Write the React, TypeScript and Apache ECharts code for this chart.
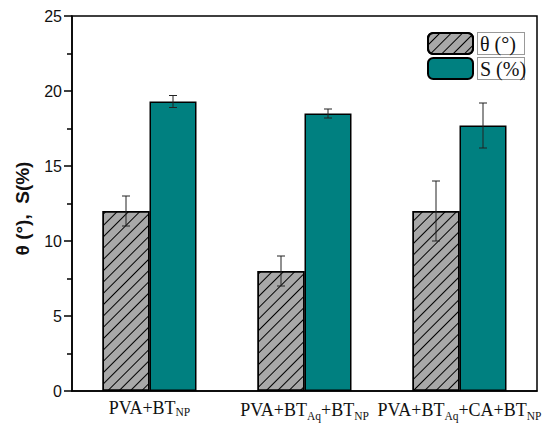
import React, { useEffect, useRef } from "react";
import * as echarts from "echarts";

const categories = ["PVA+BT_NP", "PVA+BT_Aq+BT_NP", "PVA+BT_Aq+CA+BT_NP"];
const thetaValues = [12, 8, 12];
const thetaErrors = [1, 1, 2];
const sValues = [19.3, 18.5, 17.7];
const sErrors = [0.4, 0.3, 1.5];
const yTicks = { min: 0, max: 25, interval: 5 };

const BAR_W = 47;

function toRich(label: string): string {
  return label.replace(/_(NP|Aq)/g, (_m, s) => (s === "Aq" ? `{subq|${s}}` : `{sub|${s}}`));
}

export default function App() {
  const ref = useRef<HTMLDivElement>(null);
  useEffect(() => {
    if (!ref.current) return;
    const chart = echarts.init(ref.current, undefined, { renderer: "svg" });
    const errData = (vals: number[], errs: number[]) =>
      vals.map((v, i) => [i, v - errs[i], v + errs[i]]);
    const errSeries = (name: string, vals: number[], errs: number[], off: number) => ({
      type: "custom",
      name: name + "-err",
      data: errData(vals, errs),
      z: 10,
      silent: true,
      renderItem: (params: any, api: any) => {
        const x = api.value(0);
        const lo = api.coord([x, api.value(1)]);
        const hi = api.coord([x, api.value(2)]);
        const cx = lo[0] + off;
        const cap = 4;
        const st = { stroke: "#222", lineWidth: 1 };
        return {
          type: "group",
          children: [
            { type: "line", shape: { x1: cx, y1: lo[1], x2: cx, y2: hi[1] }, style: st },
            { type: "line", shape: { x1: cx - cap, y1: lo[1], x2: cx + cap, y2: lo[1] }, style: st },
            { type: "line", shape: { x1: cx - cap, y1: hi[1], x2: cx + cap, y2: hi[1] }, style: st },
          ],
        };
      },
    });
    const serif = "'Liberation Serif', 'DejaVu Serif', serif";
    chart.setOption({
      animation: false,
      grid: {
        left: 72,
        right: 13,
        top: 16,
        bottom: 39,
        show: true,
        borderColor: "#000",
        borderWidth: 1.5,
      },
      legend: {
        orient: "vertical",
        left: 427,
        top: 32,
        itemWidth: 45,
        itemHeight: 21,
        itemGap: 2,
        padding: 0,
        selectedMode: false,
        data: ["θ (°)", "S (%)"],
        textStyle: {
          fontFamily: serif,
          fontSize: 20,
          color: "#111",
          backgroundColor: "#fff",
          borderColor: "#999",
          borderWidth: 1,
          width: 42,
          height: 21,
          lineHeight: 21,
          padding: [0, 2, 0, 2],
        },
      },
      xAxis: {
        type: "category",
        data: categories,
        axisTick: { show: false },
        axisLine: { lineStyle: { color: "#000", width: 1.5 } },
        axisLabel: {
          margin: 6,
          interval: 0,
          formatter: (v: string) => toRich(v),
          fontFamily: serif,
          fontSize: 18,
          color: "#111",
          rich: {
            sub: {
              fontFamily: serif,
              fontSize: 11.5,
              color: "#111",
              padding: [9, 0, 0, 0],
              verticalAlign: "bottom",
            },
            subq: {
              fontFamily: serif,
              fontSize: 11.5,
              color: "#111",
              padding: [13, 0, 0, 0],
              verticalAlign: "bottom",
            },
          },
        },
      },
      yAxis: {
        type: "value",
        min: yTicks.min,
        max: yTicks.max,
        interval: yTicks.interval,
        name: "θ (°),  S(%)",
        nameLocation: "middle",
        nameGap: 40,
        nameTextStyle: {
          fontFamily: "Arial, 'Liberation Sans', sans-serif",
          fontWeight: "bold",
          fontSize: 19,
          color: "#111",
          padding: [0, 10, 0, 0],
        },
        axisLine: { show: true, lineStyle: { color: "#000", width: 1.5 } },
        axisTick: { show: true, inside: false, length: 8, lineStyle: { color: "#000", width: 1.5 } },
        minorTick: { show: true, splitNumber: 2, length: 5, lineStyle: { color: "#000", width: 1.5 } },
        splitLine: { show: false },
        axisLabel: {
          fontFamily: "Arial, 'Liberation Sans', sans-serif",
          fontSize: 16,
          color: "#111",
          margin: 10,
        },
      },
      series: [
        {
          type: "bar",
          name: "θ (°)",
          data: thetaValues,
          barWidth: BAR_W,
          barGap: "0%",
          itemStyle: {
            color: "#a8a8a8",
            borderColor: "#000",
            borderWidth: 1.5,
            decal: {
              symbol: "rect",
              symbolSize: 1,
              dashArrayX: [1, 0],
              dashArrayY: [1, 7],
              rotation: -Math.PI / 4,
              color: "#000",
            },
          },
        },
        {
          type: "bar",
          name: "S (%)",
          data: sValues,
          barWidth: BAR_W,
          barGap: "0%",
          itemStyle: { color: "#008080", borderColor: "#000", borderWidth: 1.5 },
        },
        errSeries("theta", thetaValues, thetaErrors, -BAR_W / 2),
        errSeries("s", sValues, sErrors, BAR_W / 2),
      ],
    });
    return () => chart.dispose();
  }, []);
  return <div ref={ref} style={{ width: 550, height: 430, position: "absolute", left: 0, top: 0 }} />;
}
